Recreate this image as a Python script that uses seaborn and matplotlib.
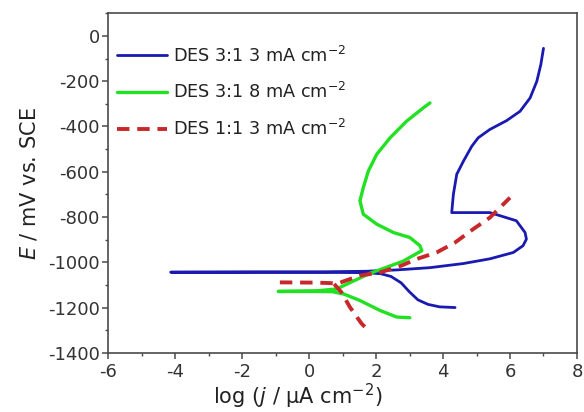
import matplotlib
matplotlib.use("Agg")
import matplotlib.pyplot as plt
import seaborn as sns
import pandas as pd
from matplotlib.ticker import MultipleLocator
from matplotlib.lines import Line2D

# ---- data ----
labels = ["DES 3:1 3 mA cm$^{-2}$", "DES 3:1 8 mA cm$^{-2}$", "DES 1:1 3 mA cm$^{-2}$"]

blue_logj = [4.36, 3.90, 3.55, 3.25, 3.00, 2.75, 2.45, 2.15, 1.70, 0.50, -1.50, -4.13,
             -1.50, 0.50, 1.70, 2.12, 2.62, 3.61, 4.60, 5.40, 6.10, 6.39, 6.49, 6.45,
             6.19, 5.40, 4.26, 4.31, 4.41, 4.61, 4.86, 5.05, 5.40, 5.90, 6.30, 6.60,
             6.80, 6.92, 7.00]
blue_E = [-1199, -1196, -1185, -1165, -1130, -1090, -1062, -1050, -1045, -1044, -1043, -1043,
          -1042, -1041, -1039, -1036, -1033, -1023, -1005, -984, -956, -926, -897, -868,
          -816, -780, -780, -699, -611, -553, -487, -450, -413, -374, -333, -274,
          -201, -127, -55]

green_logj = [3.01, 2.62, 2.12, 1.52, 1.05, 0.70, 0.20, -0.92, 0.20, 0.82, 1.82, 2.80,
              3.37, 3.31, 3.01, 2.52, 2.02, 1.62, 1.52, 1.62, 1.77, 2.02, 2.42, 2.91,
              3.41, 3.61]
green_E = [-1244, -1241, -1212, -1168, -1140, -1129, -1128, -1128, -1126, -1117, -1048, -995,
           -948, -926, -890, -868, -831, -787, -728, -670, -597, -523, -450, -377,
           -318, -296]

red_an_logj = [-0.87, 0.20, 0.60, 0.85, 1.52, 2.12, 2.76, 3.21, 3.81, 4.36, 4.90, 5.40, 6.00]
red_an_E = [-1088, -1089, -1091, -1093, -1058, -1044, -1014, -985, -956, -912, -853, -802, -714]
red_ca_logj = [0.75, 0.97, 1.22, 1.40, 1.57, 1.67]
red_ca_E = [-1095, -1132, -1197, -1235, -1270, -1285]

xticks = [-6, -4, -2, 0, 2, 4, 6, 8]
yticks = [0, -200, -400, -600, -800, -1000, -1200, -1400]

colors = ["#1a1ab0", "#22e022", "#c8282a"]
widths = [2.0, 2.4, 2.8]
red_dash = [3.2, 2.0]

# ---- build frame ----
rows = []
for x, y in zip(blue_logj, blue_E):
    rows.append((labels[0], 0, x, y))
for x, y in zip(green_logj, green_E):
    rows.append((labels[1], 1, x, y))
for x, y in zip(red_an_logj, red_an_E):
    rows.append((labels[2], 2, x, y))
for x, y in zip(red_ca_logj, red_ca_E):
    rows.append((labels[2], 3, x, y))
df = pd.DataFrame(rows, columns=["series", "seg", "logj", "E"])

sns.set_style("ticks")
plt.rcParams["font.family"] = ["DejaVu Sans"]
plt.rcParams["axes.unicode_minus"] = False
plt.rcParams["mathtext.fontset"] = "dejavusans"

fig = plt.figure(figsize=(5.84, 4.12), dpi=100)
ax = fig.add_axes([0.185, 0.143, 0.803, 0.825])

for i, lab in enumerate(labels):
    sub = df[df.series == lab]
    n0 = len(ax.get_lines())
    sns.lineplot(data=sub, x="logj", y="E", units="seg", estimator=None, sort=False,
                 color=colors[i], lw=widths[i], ax=ax, legend=False)
    if i == 2:
        for line in ax.get_lines()[n0:]:
            line.set_linestyle("--")
            line.set_dashes(red_dash)

ax.set_xlim(-6, 8)
ax.set_ylim(-1400, 100)
ax.set_xticks(xticks)
ax.set_xticklabels([str(t) for t in xticks])
ax.set_yticks(yticks)
ax.set_yticklabels([str(t) for t in yticks])
ax.xaxis.set_minor_locator(MultipleLocator(1))
ax.yaxis.set_minor_locator(MultipleLocator(100))

for s in ax.spines.values():
    s.set_color("#4a4a4a")
    s.set_linewidth(1.2)
ax.tick_params(which="major", direction="out", length=4, width=1.1, color="#4a4a4a",
               labelsize=13, labelcolor="#333333", top=False, right=False)
ax.tick_params(axis="x", which="major", pad=3)
ax.tick_params(axis="y", which="major", pad=2)
ax.tick_params(which="minor", direction="out", length=2.5, width=1.0, color="#4a4a4a",
               top=False, right=False)

ax.set_ylabel(r"$\it{E}$ / mV vs. SCE", fontsize=15, color="#222222", labelpad=6)
ax.set_xlabel(r"log ($\it{j}$ / μA cm$^{-2}$)", fontsize=15, color="#222222")
ax.xaxis.set_label_coords(0.405, -0.085)

handles = []
for i in range(3):
    h = Line2D([], [], color=colors[i], lw=widths[i])
    if i == 2:
        h.set_linestyle("--")
        h.set_dashes(red_dash)
    handles.append(h)
leg = ax.legend(handles, labels, loc="upper left", bbox_to_anchor=(0.02, 0.905),
                frameon=False, fontsize=12.7, handlelength=2.8, handletextpad=0.35,
                labelspacing=0.95, borderaxespad=0, borderpad=0)
for t in leg.get_texts():
    t.set_color("#222222")

fig.savefig("out.png", dpi=100)
